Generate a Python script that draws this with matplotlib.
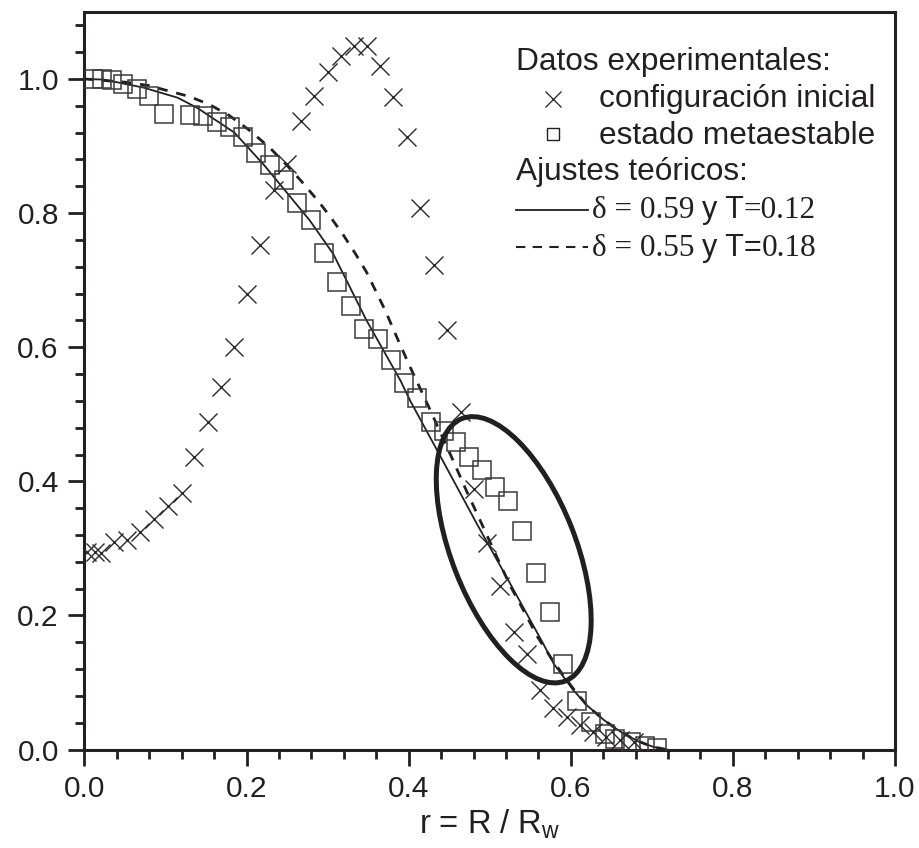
import matplotlib
matplotlib.use("Agg")
import matplotlib.pyplot as plt
from matplotlib.ticker import MultipleLocator, FixedLocator
from matplotlib.patches import Ellipse
from matplotlib.transforms import IdentityTransform, ScaledTranslation
from matplotlib.offsetbox import TextArea, HPacker, AnchoredOffsetbox

# ---------------- data ----------------
sq_x = [0.010, 0.022, 0.034, 0.048, 0.065, 0.080, 0.098, 0.130, 0.146, 0.163,
        0.179, 0.196, 0.212, 0.229, 0.246, 0.262, 0.280, 0.295, 0.312, 0.329,
        0.345, 0.362, 0.378, 0.394, 0.410, 0.427, 0.443, 0.458, 0.474, 0.490,
        0.507, 0.523, 0.540, 0.557, 0.574, 0.590, 0.608, 0.625, 0.642, 0.655,
        0.674, 0.691, 0.707]
sq_y = [1.000, 1.000, 0.998, 0.993, 0.985, 0.974, 0.947, 0.946, 0.945, 0.936,
        0.928, 0.914, 0.890, 0.871, 0.850, 0.815, 0.790, 0.740, 0.697, 0.662,
        0.627, 0.612, 0.581, 0.547, 0.524, 0.489, 0.475, 0.459, 0.437, 0.417,
        0.391, 0.371, 0.326, 0.264, 0.205, 0.128, 0.072, 0.041, 0.024, 0.016,
        0.012, 0.005, 0.002]

cr_x = [0.003, 0.013, 0.021, 0.037, 0.052, 0.069, 0.086, 0.103, 0.120, 0.135,
        0.152, 0.168, 0.184, 0.200, 0.217, 0.234, 0.250, 0.267, 0.283, 0.300,
        0.316, 0.333, 0.348, 0.365, 0.381, 0.398, 0.414, 0.431, 0.447, 0.464,
        0.480, 0.497, 0.513, 0.530, 0.546, 0.562, 0.578, 0.595, 0.611, 0.628,
        0.644, 0.661, 0.678]
cr_y = [0.295, 0.295, 0.293, 0.309, 0.313, 0.324, 0.344, 0.363, 0.383, 0.437,
        0.489, 0.540, 0.600, 0.680, 0.753, 0.835, 0.873, 0.937, 0.975, 1.010,
        1.034, 1.049, 1.049, 1.020, 0.973, 0.913, 0.808, 0.722, 0.626, 0.503,
        0.388, 0.308, 0.244, 0.176, 0.142, 0.089, 0.062, 0.048, 0.036, 0.026,
        0.019, 0.015, 0.012]

fit1_x = [0.000, 0.024, 0.073, 0.115, 0.139, 0.185, 0.222, 0.250, 0.278, 0.307,
          0.348, 0.390, 0.402, 0.442, 0.484, 0.525, 0.566, 0.579, 0.603, 0.620,
          0.641, 0.661, 0.682, 0.702, 0.719]
fit1_y = [1.000, 0.999, 0.987, 0.972, 0.957, 0.920, 0.871, 0.830, 0.789, 0.739,
          0.640, 0.550, 0.520, 0.431, 0.337, 0.248, 0.158, 0.128, 0.089, 0.066,
          0.044, 0.027, 0.013, 0.004, 0.000]

fit2_x = [0.000, 0.052, 0.080, 0.104, 0.129, 0.154, 0.178, 0.203, 0.229, 0.250,
          0.268, 0.289, 0.303, 0.319, 0.334, 0.348, 0.371, 0.389, 0.402, 0.424,
          0.453, 0.472, 0.490, 0.507, 0.525, 0.546, 0.558, 0.575, 0.590, 0.603,
          0.620, 0.641, 0.661, 0.682, 0.702, 0.719]
fit2_y = [1.000, 0.995, 0.990, 0.982, 0.974, 0.962, 0.946, 0.924, 0.897, 0.871,
          0.847, 0.817, 0.795, 0.768, 0.740, 0.712, 0.655, 0.605, 0.570, 0.513,
          0.436, 0.384, 0.337, 0.292, 0.245, 0.198, 0.170, 0.138, 0.112, 0.091,
          0.066, 0.044, 0.027, 0.013, 0.004, 0.000]

x_ticks = [0.0, 0.2, 0.4, 0.6, 0.8, 1.0]
y_ticks = [0.0, 0.2, 0.4, 0.6, 0.8, 1.0]
tick_labels = ["0.0", "0.2", "0.4", "0.6", "0.8", "1.0"]

# highlight ellipse (centre in data units, axes in pixels, angle in degrees)
ell_center = (0.5296, 0.298)
ell_w_px, ell_h_px, ell_angle = 282, 124, 111.5

INK = "#231f20"
SANS = "Liberation Sans"
SERIF = "Liberation Serif"

plt.rcParams["font.family"] = [SANS, "DejaVu Sans"]
plt.rcParams["mathtext.fontset"] = "custom"
plt.rcParams["mathtext.rm"] = SANS

fig = plt.figure(figsize=(9.2, 8.48), dpi=100)
ax = fig.add_axes([0.0918, 0.116, 0.881, 0.870])

ax.plot(fit1_x, fit1_y, color=INK, lw=1.3, zorder=3)
ax.plot(fit2_x, fit2_y, color=INK, lw=2.0, ls=(0, (3.5, 3.2)), zorder=3)
ax.plot(sq_x, sq_y, ls="none", marker="s", ms=13, mfc="none",
        mec="#3a3a3a", mew=1.1, zorder=4)
ax.plot(cr_x, cr_y, ls="none", marker="x", ms=13, mec="#2a2a2a",
        mew=1.0, zorder=4)

ell_tr = IdentityTransform() + ScaledTranslation(ell_center[0], ell_center[1],
                                                 ax.transData)
ax.add_patch(Ellipse((0, 0), ell_w_px, ell_h_px, angle=ell_angle,
                     transform=ell_tr, fill=False, ec=INK, lw=3.6, zorder=5))

ax.set_xlim(0, 1.0)
ax.set_ylim(0, 1.1)
ax.xaxis.set_major_locator(FixedLocator(x_ticks))
ax.yaxis.set_major_locator(FixedLocator(y_ticks))
ax.set_xticklabels(tick_labels)
ax.set_yticklabels(tick_labels)
ax.xaxis.set_minor_locator(MultipleLocator(0.04))
ax.yaxis.set_minor_locator(MultipleLocator(0.04))
ax.tick_params(which="both", direction="out", top=False, right=False,
               color=INK, width=2.0)
ax.tick_params(which="major", length=11.5, labelsize=21.5, labelcolor=INK, pad=7)
ax.tick_params(which="minor", length=6.3)
for sp in ax.spines.values():
    sp.set_linewidth(2.2)
    sp.set_color(INK)

ax.set_xlabel(r"r = R / R$_\mathregular{w}$", fontsize=23.5, color=INK, labelpad=3)

# ---------------- legend block ----------------
lx = 0.5324
ax.text(lx, 0.9209, "Datos experimentales:", transform=ax.transAxes,
        fontsize=22.8, color=INK, va="baseline", ha="left")
ax.text(0.6352, 0.8704, "configuración inicial", transform=ax.transAxes,
        fontsize=22.8, color=INK, va="baseline", ha="left")
ax.text(0.6352, 0.8207, "estado metaestable", transform=ax.transAxes,
        fontsize=22.8, color=INK, va="baseline", ha="left")
ax.text(lx, 0.7719, "Ajustes teóricos:", transform=ax.transAxes,
        fontsize=22.8, color=INK, va="baseline", ha="left")
ax.plot([0.5784], [0.8813], transform=ax.transAxes, marker="x", ms=12,
        mec=INK, mew=0.9, ls="none", clip_on=False)
ax.plot([0.5784], [0.8343], transform=ax.transAxes, marker="s", ms=8.5,
        mfc="none", mec=INK, mew=1.0, ls="none", clip_on=False)
ax.plot([0.5324, 0.6216], [0.7313, 0.7313], transform=ax.transAxes,
        color=INK, lw=1.3, clip_on=False)
ax.plot([0.5324, 0.6216], [0.6815, 0.6815], transform=ax.transAxes,
        color=INK, lw=1.5, ls=(0, (4.5, 3.5)), clip_on=False)


def mixed_line(parts, y):
    areas = [TextArea(t, textprops=dict(family=[f, "DejaVu Sans"], fontsize=s,
                                        color=INK)) for t, f, s in parts]
    box = HPacker(children=areas, align="baseline", pad=0, sep=0)
    anc = AnchoredOffsetbox(loc="lower left", child=box, pad=0, borderpad=0,
                            frameon=False, bbox_to_anchor=(0.6258, y),
                            bbox_transform=ax.transAxes)
    ax.add_artist(anc)


mixed_line([("δ = 0.59 ", SERIF, 22.5), ("y T", SANS, 22), ("=0.12", SERIF, 22.5)],
           0.7110)
mixed_line([("δ = 0.55 ", SERIF, 22.5), ("y T=", SANS, 22), ("0.18", SERIF, 22.5)],
           0.6599)

fig.savefig("out.png", dpi=100)
